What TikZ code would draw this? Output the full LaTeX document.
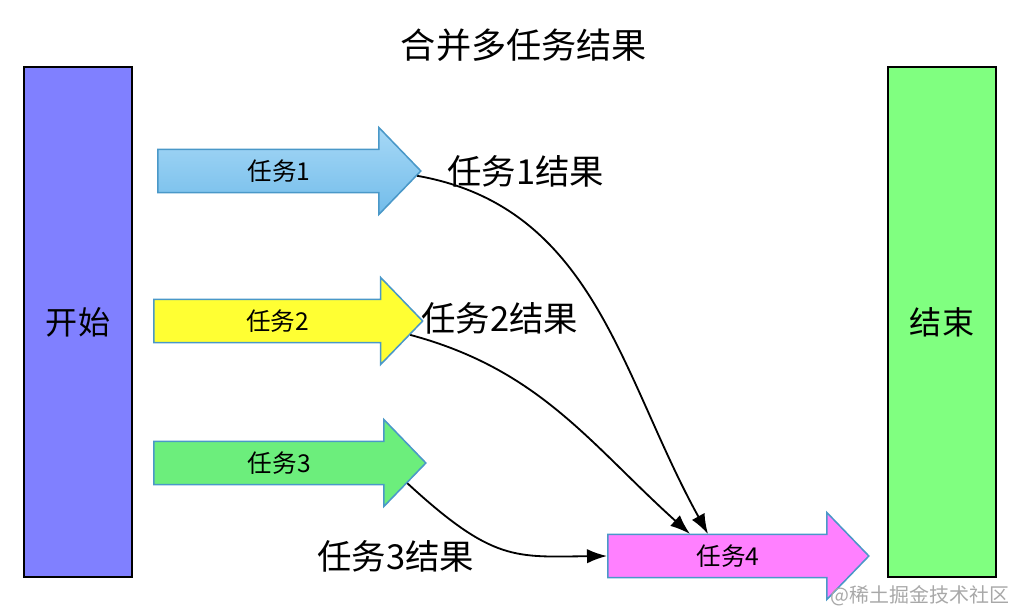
\documentclass[tikz,border=0pt]{standalone}
\usepackage{fontspec}
\setmainfont{Noto Sans CJK SC}
\usetikzlibrary{arrows.meta, positioning, shapes.arrows, calc}
\definecolor{cstart}{HTML}{8080FF}
\definecolor{cend}{HTML}{80FF80}
\definecolor{cskytop}{HTML}{A6D8F6}
\definecolor{cskybot}{HTML}{72BCEA}
\definecolor{cyellow}{HTML}{FFFF33}
\definecolor{cgreen}{HTML}{6CEE7C}
\definecolor{cpink}{HTML}{FF80FF}
\definecolor{cedge}{HTML}{4A98C8}
\definecolor{cmark}{HTML}{A8A8A8}
\tikzset{
  every picture/.style={line width=1pt},
  stage/.style={draw=black, fill=#1, line width=1.4pt, minimum width=2.7cm, minimum height=12.75cm, font=\fontsize{22.8}{26}\selectfont},
  task/.style={single arrow, draw=cedge, fill=#1, line width=1.1pt, minimum height=6.575cm, minimum width=2.175cm,
    single arrow head extend=0.47cm, single arrow tip angle=92, inner xsep=2pt, inner ysep=4.6pt, font=\fontsize{17.5}{20}\selectfont},
  task/.default=cyellow,
  result/.style={-{Latex[length=5mm, width=3.6mm]}, draw=black, line width=1.3pt},
  title/.style={font=\fontsize{25}{29}\selectfont},
  note/.style={font=\fontsize{24.5}{28}\selectfont, anchor=west},
}

\begin{document}
\begin{tikzpicture}[x=0.025cm, y=-0.025cm]
  \useasboundingbox (0,0) rectangle (1021,615);
  \node[title] (head) at (524,45) {合并多任务结果};
  \node[stage=cstart] (start) at (78,322) {开始};
  \node[stage=cend] (stop) at (942,322) {结束};
  \node[task, shading=axis, top color=cskytop, bottom color=cskybot, anchor=tail] (t1) at (157,171) {任务1};
  \node[task=cyellow, minimum height=6.72cm, anchor=tail] (t2) at (153,321) {任务2};
  \node[task=cgreen, minimum height=6.8cm, anchor=tail] (t3) at (153,463) {任务3};
  \node[task=cpink, minimum height=6.525cm, anchor=tail] (t4) at (607,556) {任务4};
  \node[note] (r1) at (442,171) {任务1结果};
  \node[note] (r2) at (416,318) {任务2结果};
  \node[note] (r3) at (312,556) {任务3结果};
  \draw[result] (t1.-2) to[out=-10, in=119] ($(t4.tail)+(101,-22)$);
  \draw[result] (t2.-6) to[out=-15, in=138] ($(t4.tail)+(83,-22)$);
  \draw[result] (t3.-9) .. controls (493,562) and (515,557) .. (t4.tail);
  \node[text=cmark, font=\fontsize{14.2}{17}\selectfont, anchor=east] (mark) at (1015,596) {@稀土掘金技术社区};
\end{tikzpicture}
\end{document}
